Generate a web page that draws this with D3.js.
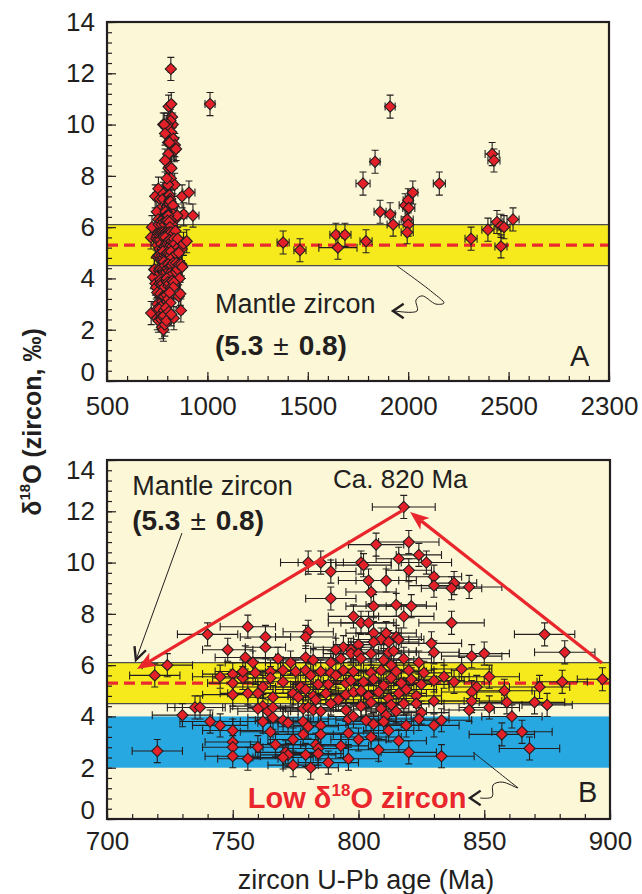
<!DOCTYPE html>
<html>
<head>
<meta charset="utf-8">
<script src="https://cdn.jsdelivr.net/npm/d3@7"></script>
<style>
  body { margin: 0; background: #fff; }
  svg { display: block; }
  text { font-family: "Liberation Sans", Arial, Helvetica, sans-serif; fill: #231f20; }
</style>
</head>
<body>
<svg id="chart" width="642" height="894"></svg>
<script>
// mantle zircon reference value and the low-d18O field
const mantleZircon = { mean: 5.3, sd: 0.8 };
const lowO18Range = [2, 4];
const o18Err = 0.45;

// 700-900 Ma zircons: [U-Pb age (Ma), d18O, age error]
const zirconNeo = [
  [818,12.17,12.5],
  [807,10.7,11],[820,10.8,12],[824,10.3,9],[827,10.0,10],[816,10.15,9],[801,10.0,12],[802,9.9,11],
  [820,9.7,9],[830,9.45,11],[830,9.1,10],[838,9.2,9],[837,9.0,12],[844,9.05,13],[804,9.3,12],[811,9.3,12],
  [805,8.85,10],[806,8.3,11],[815,8.35,12],[821,8.3,10],[818,7.9,12],[837,7.65,13],[801,7.65,13],[804,7.65,11],
  [798,7.9,10],[874,7.2,12],[882,6.5,12],
  [780,10.0,11],[785,10.0,9],[789,9.65,10],[789,8.6,10],[740,7.2,12],[756,7.5,11],[763,7.1,10],[763,6.7,8],
  [748,6.6,10],[780,7.3,10],[779,7.1,12],[794,6.7,12],[800,6.8,10],
  [806,7.25,11],[811,7.25,12],[815,7.1,10],[809,7.0,11],[806,6.9,10],[812,6.9,12],[816,7.0,10],[812,6.5,11],
  [814,6.55,9],[829,6.85,12],[830,6.5,10],[797,6.6,11],[791,6.6,10],[845,6.35,12],[850,6.45,10],
  [719,5.6,10],[724,6.0,10],[755,6.3,12],[758,6.1,11],[768,6.25,12],[773,6.1,10],[779,6.3,11],[782,6.2,12],
  [789,6.1,10],[793,6.25,12],[797,6.45,11],[800,6.45,10],[805,6.45,12],[818,6.25,11],[801,6.25,12],[824,6.1,10],
  [810,6.2,12],[813,6.0,11],
  [745,5.55,11],[750,5.65,12],[750,5.3,10],[754,5.5,12],[754,5.75,11],[759,5.7,10],[765,5.75,12],[770,5.8,11],
  [775,5.75,12],[779,5.8,10],[785,5.75,12],[789,5.7,11],[794,5.8,12],[798,5.75,10],[805,5.7,12],[809,5.8,11],
  [815,5.75,12],[820,5.8,10],[826,5.7,11],[841,5.85,12],
  [762,5.15,12],[765,5.5,11],[770,5.35,12],[777,5.15,10],[781,5.6,12],[784,5.25,11],[788,5.25,12],[791,5.6,10],
  [795,5.3,12],[797,5.4,11],[802,5.35,12],[806,5.45,10],[810,5.2,12],[813,5.5,11],[817,5.3,12],[821,5.45,10],
  [825,5.25,11],[830,5.4,12],[834,5.55,10],[838,5.35,12],[852,5.55,12],[847,5.15,11],[872,5.15,12],[881,5.35,10],
  [897,5.45,10],
  [750,4.85,12],[756,4.9,11],[760,4.9,12],[766,4.75,10],[774,4.9,12],[776,4.75,11],[779,5.05,12],[782,4.8,10],
  [787,4.9,12],[792,4.65,11],[795,4.85,12],[798,4.95,10],[801,5.0,12],[804,4.8,11],[808,4.95,12],[812,4.7,10],
  [816,4.9,11],[819,5.05,12],[823,4.8,10],[845,4.95,12],[858,5.0,11],
  [730,4.05,12],[735,4.35,11],[737,4.35,10],[762,4.4,12],[760,4.3,11],[764,4.2,12],[766,4.35,10],[778,4.3,12],
  [780,4.35,11],[782,4.25,12],[783,4.65,10],[785,4.2,12],[789,4.5,11],[795,4.25,12],[801,4.4,10],[805,4.55,12],
  [809,4.3,11],[813,4.45,12],[818,4.5,10],[823,4.5,11],[815,4.2,12],[811,4.05,10],[825,4.15,11],[830,4.6,12],
  [845,4.6,12],[844,4.25,10],[852,4.35,12],[859,4.55,11],[870,4.55,12],[875,4.45,10],[861,4.0,12],
  [741,3.8,12],[745,3.65,11],[762,3.8,12],[766,3.95,10],[770,3.85,11],[772,3.75,12],[778,3.8,10],[780,3.6,12],
  [785,3.65,11],[796,3.9,12],[798,4.0,10],[803,3.85,12],[806,3.7,11],[810,3.8,12],[824,3.9,12],[819,3.65,11],
  [833,3.85,12],[830,3.65,10],
  [750,3.45,12],[750,3.0,11],[765,3.4,12],[774,3.1,10],[778,3.3,12],[785,3.3,11],[783,2.9,12],[767,2.9,10],
  [796,3.35,12],[800,3.1,11],[805,3.2,12],[812,3.45,10],[816,3.05,11],[857,3.3,13],[865,3.4,12],
  [720,2.65,10],[750,2.8,12],[750,2.45,11],[756,2.35,12],[760,2.8,10],[771,2.6,12],[772,2.5,11],[770,2.4,12],
  [774,2.1,10],[779,2.5,12],[781,2.0,11],[784,2.75,12],[784,2.55,10],[788,2.2,12],[793,2.85,11],[796,2.35,12],
  [808,2.7,12],[833,2.45,13],[820,2.6,11],[868,2.75,12]
];

// older (inherited) zircons, only in panel A: [age, d18O, age error]
const zirconOld = [
  [908,7.35,30],[928,6.45,30],[1013,10.8,25],[1377,5.4,30],[1461,5.1,30],[1640,5.7,30],[1650,5.2,95],
  [1685,5.7,30],[1790,5.45,30],[1775,7.7,35],[1835,8.55,25],[1910,10.7,25],[1860,6.6,30],[1910,6.5,25],
  [1925,6.1,30],[1985,6.85,30],[2000,7.05,25],[2003,6.75,30],[2023,7.35,25],[1995,6.3,30],[2000,6.1,25],
  [1995,5.8,30],[2155,7.7,30],[2313,5.55,30],[2397,5.9,30],[2418,8.85,35],[2427,8.6,30],[2442,6.2,30],
  [2462,6.05,30],[2477,6.0,30],[2522,6.3,30],[2462,5.25,30]
];

const yTicks = [0, 2, 4, 6, 8, 10, 12, 14];
const xTicksA = [500, 1000, 1500, 2000, 2500, 3000];
const xTickLabelsA = ["500", "1000", "1500", "2000", "2500", "2300"];
const xTicksB = [700, 750, 800, 850, 900];

const ink = "#231f20", red = "#e42128";
const svg = d3.select("#chart");
const defs = svg.append("defs");

function diamond(r) { return `M0,${-r}L${r},0L0,${r}L${-r},0Z`; }

function arrowHead(g, x1, y1, x2, y2, len, half, color) {
  const a = Math.atan2(y2 - y1, x2 - x1);
  const bx = x2 - len * Math.cos(a), by = y2 - len * Math.sin(a);
  const nx = -Math.sin(a) * half, ny = Math.cos(a) * half;
  const mx = x2 - len * 0.75 * Math.cos(a), my = y2 - len * 0.75 * Math.sin(a);
  g.append("path")
    .attr("d", `M${x2},${y2}L${bx + nx},${by + ny}L${mx},${my}L${bx - nx},${by - ny}Z`)
    .attr("fill", color);
  return [mx, my];
}

function openHead(g, x1, y1, x2, y2, len, ang) {
  const a = Math.atan2(y2 - y1, x2 - x1);
  const p1 = [x2 - len * Math.cos(a - ang), y2 - len * Math.sin(a - ang)];
  const p2 = [x2 - len * Math.cos(a + ang), y2 - len * Math.sin(a + ang)];
  g.append("path").attr("d", `M${p1}L${x2},${y2}L${p2}`)
    .attr("fill", "none").attr("stroke", ink).attr("stroke-width", 2.4);
}

function bandLabel(g, x, y) {
  const t = g.append("text").attr("x", x).attr("y", y)
    .attr("font-size", 28).attr("font-weight", "bold");
  t.append("tspan").text("(5.3");
  t.append("tspan").attr("dx", 10).attr("font-weight", "normal").text("±");
  t.append("tspan").attr("dx", 10).text("0.8)");
}

function drawPanel(cfg) {
  const x = d3.scaleLinear().domain(cfg.xDomain).range([cfg.left, cfg.right]);
  const y = d3.scaleLinear().domain([0, 14]).range([cfg.bottom, cfg.top]);
  const g = svg.append("g");

  defs.append("clipPath").attr("id", "clip" + cfg.name).append("rect")
    .attr("x", cfg.left).attr("y", cfg.top)
    .attr("width", cfg.right - cfg.left).attr("height", cfg.bottom - cfg.top);
  const plot = g.append("g").attr("clip-path", `url(#clip${cfg.name})`);

  plot.append("rect")
    .attr("x", cfg.left).attr("y", cfg.top)
    .attr("width", cfg.right - cfg.left).attr("height", cfg.bottom - cfg.top)
    .attr("fill", "#fcf8d7");

  // mantle zircon band
  const lo = mantleZircon.mean - mantleZircon.sd, hi = mantleZircon.mean + mantleZircon.sd;
  plot.append("rect")
    .attr("x", cfg.left).attr("y", y(hi))
    .attr("width", cfg.right - cfg.left).attr("height", y(lo) - y(hi))
    .attr("fill", "#f6ea1d");
  [lo, hi].forEach(v => {
    plot.append("line")
      .attr("x1", cfg.left).attr("x2", cfg.right).attr("y1", y(v)).attr("y2", y(v))
      .attr("stroke", "#4d4d4d").attr("stroke-width", 1.2);
  });

  if (cfg.lowO) {
    plot.append("rect")
      .attr("x", cfg.left).attr("y", y(lowO18Range[1]))
      .attr("width", cfg.right - cfg.left).attr("height", y(lowO18Range[0]) - y(lowO18Range[1]))
      .attr("fill", "#28a8e0");
  }

  plot.append("line")
    .attr("x1", cfg.left).attr("x2", cfg.right)
    .attr("y1", y(mantleZircon.mean)).attr("y2", y(mantleZircon.mean))
    .attr("stroke", "#ea2a2f").attr("stroke-width", 3.2).attr("stroke-dasharray", "11,6");

  // error bars
  plot.append("g").selectAll("path")
    .data(cfg.points)
    .join("path")
    .attr("d", d => {
      const cx = x(d[0]), cy = y(d[1]);
      const x1 = x(d[0] - d[2]), x2 = x(d[0] + d[2]);
      const yt = y(d[1] + o18Err), yb = y(d[1] - o18Err);
      return `M${x1},${cy}H${x2}M${x1},${cy - 4}V${cy + 4}M${x2},${cy - 4}V${cy + 4}` +
             `M${cx},${yt}V${yb}M${cx - 3.5},${yt}H${cx + 3.5}M${cx - 3.5},${yb}H${cx + 3.5}`;
    })
    .attr("fill", "none").attr("stroke", ink).attr("stroke-width", 1.1);

  // zircon spots
  plot.append("g").selectAll("path")
    .data(cfg.points)
    .join("path")
    .attr("transform", d => `translate(${x(d[0])},${y(d[1])})`)
    .attr("d", diamond(5.6))
    .attr("fill", red).attr("stroke", ink).attr("stroke-width", 1.1);

  // axes, ticks pointing inwards
  const yAxisMinor = g.append("g").attr("transform", `translate(${cfg.left},0)`)
    .call(d3.axisLeft(y).tickValues(d3.range(0, 14.001, 0.4)).tickSize(-5).tickFormat(""));
  const yAxis = g.append("g").attr("transform", `translate(${cfg.left},0)`)
    .call(d3.axisLeft(y).tickValues(yTicks).tickSize(-9).tickPadding(12));
  yAxis.selectAll(".tick text")
    .attr("y", d => (cfg.yLabelShift[d] || 0));

  const xAxisMinor = g.append("g").attr("transform", `translate(0,${cfg.bottom})`)
    .call(d3.axisBottom(x).tickValues(d3.range(cfg.xDomain[0], cfg.xDomain[1] + 0.001, cfg.minorStep)).tickSize(-5).tickFormat(""));
  const xAxis = g.append("g").attr("transform", `translate(0,${cfg.bottom})`)
    .call(d3.axisBottom(x).tickValues(cfg.xTicks).tickSize(-9).tickPadding(cfg.xPad)
      .tickFormat((d, i) => cfg.xLabels[i]));

  [yAxisMinor, yAxis, xAxisMinor, xAxis].forEach(a => {
    a.select(".domain").remove();
    a.selectAll(".tick line").attr("stroke", ink).attr("stroke-width", 1.2);
    a.selectAll(".tick text").attr("font-size", 26).style("fill", ink);
  });

  g.append("rect")
    .attr("x", cfg.left).attr("y", cfg.top)
    .attr("width", cfg.right - cfg.left).attr("height", cfg.bottom - cfg.top)
    .attr("fill", "none").attr("stroke", ink).attr("stroke-width", 2.2);

  return { g, x, y };
}

// ---------- panel A ----------
const A = drawPanel({
  name: "A", left: 107, right: 609, top: 22, bottom: 381,
  xDomain: [500, 3000], minorStep: 100, xTicks: xTicksA, xLabels: xTickLabelsA, xPad: 16,
  yLabelShift: { 0: -9 }, lowO: false,
  points: zirconNeo.concat(zirconOld)
});

A.g.append("text").attr("x", A.x(1038)).attr("y", A.y(2.65))
  .attr("font-size", 27).text("Mantle zircon");
bandLabel(A.g, A.x(1038), A.y(1.0));
A.g.append("text").attr("x", A.x(2806)).attr("y", A.y(0.58))
  .attr("font-size", 29).text("A");

// squiggle pointing to the band label
const squigA = [[1944, 4.49], [2119, 3.47], [2178, 3.04], [2138, 3.0], [2069, 3.32], [2039, 3.16], [2044, 2.73], [1934, 2.73]];
A.g.append("path")
  .attr("d", d3.line().x(d => A.x(d[0])).y(d => A.y(d[1])).curve(d3.curveCatmullRom)(squigA))
  .attr("fill", "none").attr("stroke", ink).attr("stroke-width", 1);
openHead(A.g, A.x(1980), A.y(2.73), A.x(1924), A.y(2.73), 13, 0.6);

// ---------- panel B ----------
const B = drawPanel({
  name: "B", left: 107, right: 610, top: 460, bottom: 819,
  xDomain: [700, 900], minorStep: 10, xTicks: xTicksB, xLabels: xTicksB.map(String), xPad: 13,
  yLabelShift: { 0: -9, 14: 10 }, lowO: true,
  points: zirconNeo
});

// trend arrows towards the ca. 820 Ma peak
const trendArrows = [
  { from: [817.7, 12.05], to: [711.9, 5.85] },
  { from: [896.8, 6.08], to: [820.5, 11.97] }
];
trendArrows.forEach(a => {
  const x1 = B.x(a.from[0]), y1 = B.y(a.from[1]), x2 = B.x(a.to[0]), y2 = B.y(a.to[1]);
  const m = arrowHead(B.g, x1, y1, x2, y2, 19, 7.5, "#e8262c");
  B.g.append("line").attr("x1", x1).attr("y1", y1).attr("x2", m[0]).attr("y2", m[1])
    .attr("stroke", "#e8262c").attr("stroke-width", 3.2);
});

B.g.append("text").attr("x", B.x(710)).attr("y", B.y(12.64))
  .attr("font-size", 27).text("Mantle zircon");
bandLabel(B.g, B.x(710), B.y(11.27));

B.g.append("line")
  .attr("x1", B.x(729.8)).attr("y1", B.y(11.15)).attr("x2", B.x(711.5)).attr("y2", B.y(6.2))
  .attr("stroke", ink).attr("stroke-width", 1);
openHead(B.g, B.x(729.8), B.y(11.15), B.x(711.5), B.y(6.2), 14, 0.45);

B.g.append("text").attr("x", B.x(789.9)).attr("y", B.y(12.9))
  .attr("font-size", 26).text("Ca. 820 Ma");

const low = B.g.append("text").attr("x", B.x(756)).attr("y", B.y(0.43))
  .attr("font-size", 29).attr("font-weight", "bold").style("fill", "#e8262c");
low.append("tspan").style("fill", "#e8262c").text("Low δ");
low.append("tspan").style("fill", "#e8262c").attr("font-size", 17).attr("dy", -12).text("18");
low.append("tspan").style("fill", "#e8262c").attr("dy", 12).text("O zircon");

const squigB = [[845.5, 2.61], [861.0, 1.40], [863.4, 1.21], [857.1, 1.44], [853.5, 1.33], [853.1, 0.86], [848.3, 0.82]];
B.g.append("path")
  .attr("d", d3.line().x(d => B.x(d[0])).y(d => B.y(d[1])).curve(d3.curveCatmullRom)(squigB))
  .attr("fill", "none").attr("stroke", ink).attr("stroke-width", 1);
openHead(B.g, B.x(850), B.y(0.82), B.x(844.3), B.y(0.82), 13, 0.6);

B.g.append("text").attr("x", B.x(887.3)).attr("y", B.y(0.66))
  .attr("font-size", 29).text("B");

// ---------- shared titles ----------
const yTitle = svg.append("text")
  .attr("transform", "translate(41,422) rotate(-90)")
  .attr("text-anchor", "middle").attr("font-size", 25).attr("font-weight", "bold");
yTitle.append("tspan").text("δ");
yTitle.append("tspan").attr("font-size", 15).attr("dy", -11).text("18");
yTitle.append("tspan").attr("dy", 11).text("O (zircon, ‰)");

svg.append("text").attr("x", 366).attr("y", 889)
  .attr("text-anchor", "middle").attr("font-size", 27)
  .text("zircon U-Pb age (Ma)");
</script>
</body>
</html>
